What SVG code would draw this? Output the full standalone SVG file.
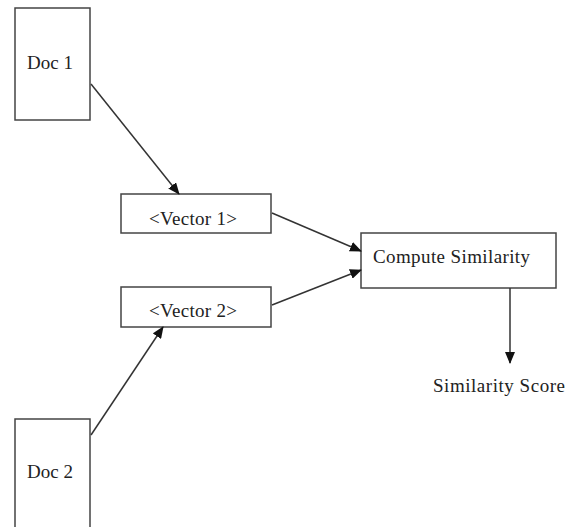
<svg xmlns="http://www.w3.org/2000/svg" width="570" height="527" viewBox="0 0 570 527">
<style>
.box{fill:#fff;stroke:#444;stroke-width:1.5}
.lbl{font-family:"Liberation Serif","Times New Roman",serif;font-size:19px;fill:#222}
.conn{stroke:#333;stroke-width:1.5;fill:none;marker-end:url(#ah)}
</style>
<defs>
<marker id="ah" markerWidth="12" markerHeight="10" refX="11" refY="5" orient="auto" markerUnits="userSpaceOnUse">
<path d="M0,0 L12,5 L0,10 Z" fill="#111"/>
</marker>
</defs>
<rect width="570" height="527" fill="#fff"/>
<g id="doc1"><rect class="box" x="15" y="8" width="75" height="112"/><text class="lbl" x="27" y="69" textLength="46">Doc 1</text></g>
<g id="doc2"><rect class="box" x="15" y="419" width="75" height="130"/><text class="lbl" x="27" y="478" textLength="46">Doc 2</text></g>
<g id="vector1"><rect class="box" x="121" y="194" width="150" height="39"/><text class="lbl" x="149" y="225" textLength="88">&lt;Vector 1&gt;</text></g>
<g id="vector2"><rect class="box" x="121" y="287" width="150" height="40"/><text class="lbl" x="149" y="317" textLength="88">&lt;Vector 2&gt;</text></g>
<g id="compute"><rect class="box" x="361" y="233" width="195" height="55"/><text class="lbl" x="373" y="263" textLength="157">Compute Similarity</text></g>
<g id="score"><text class="lbl" x="433" y="392" textLength="132">Similarity Score</text></g>
<g id="connectors">
<line class="conn" x1="91" y1="84" x2="179" y2="194"/>
<line class="conn" x1="91" y1="435" x2="163" y2="327"/>
<line class="conn" x1="272" y1="213" x2="361" y2="251"/>
<line class="conn" x1="272" y1="305" x2="361" y2="270"/>
<line class="conn" x1="510" y1="288" x2="510" y2="363"/>
</g>
</svg>
